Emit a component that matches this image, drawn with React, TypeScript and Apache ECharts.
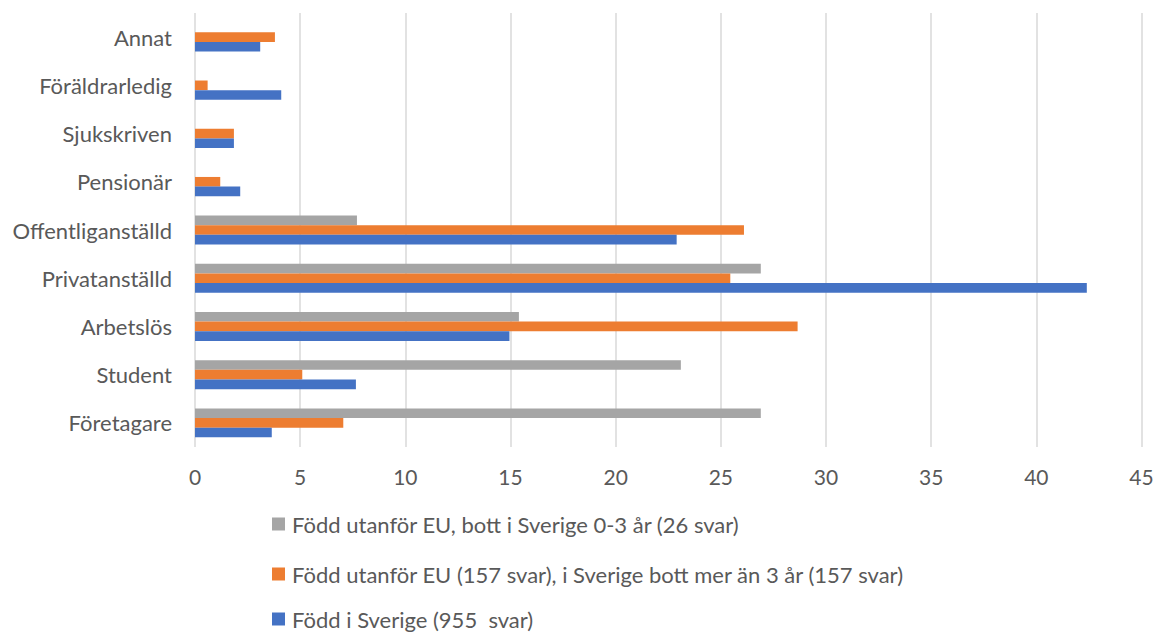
import React, { useEffect, useRef } from "react";
import * as echarts from "echarts";

const categories = [
  "Företagare",
  "Student",
  "Arbetslös",
  "Privatanställd",
  "Offentliganställd",
  "Pensionär",
  "Sjukskriven",
  "Föräldrarledig",
  "Annat",
];

const seriesNames = [
  "Född utanför EU, bott i Sverige 0-3 år (26 svar)",
  "Född utanför EU (157 svar), i Sverige bott mer än 3 år (157 svar)",
  "Född i Sverige (955  svar)",
];

const outsideEU0to3 = [26.9, 23.1, 15.4, 26.9, 7.7, 0, 0, 0, 0];
const outsideEU3plus = [7.05, 5.1, 28.65, 25.45, 26.1, 1.2, 1.85, 0.6, 3.8];
const bornSweden = [3.65, 7.65, 14.95, 42.4, 22.9, 2.15, 1.85, 4.1, 3.1];

const xTicks = { min: 0, max: 45, interval: 5 };

const colors = ["#A5A5A5", "#ED7D31", "#4472C4"];
const FONT = "Lato";
const TEXT = "#595959";
const legendTops = [512, 562, 607];

export default function App() {
  const ref = useRef<HTMLDivElement>(null);
  useEffect(() => {
    if (!ref.current) return;
    const chart = echarts.init(ref.current, undefined, { renderer: "svg" });
    const values = [outsideEU0to3, outsideEU3plus, bornSweden];
    chart.setOption({
      animation: false,
      backgroundColor: "#ffffff",
      grid: { left: 195, right: 15.5, top: 13, bottom: 185, containLabel: false },
      xAxis: {
        type: "value",
        min: xTicks.min,
        max: xTicks.max,
        interval: xTicks.interval,
        axisLine: { show: false },
        axisTick: { show: false },
        splitLine: { show: true, lineStyle: { color: "#D9D9D9", width: 1.5 } },
        axisLabel: { color: TEXT, fontFamily: FONT, fontSize: 21, margin: 19 },
      },
      yAxis: {
        type: "category",
        data: categories,
        axisLine: { show: false },
        axisTick: { show: false },
        axisLabel: { color: TEXT, fontFamily: FONT, fontSize: 22, margin: 23 },
      },
      legend: seriesNames.map((name, i) => ({
        orient: "vertical",
        left: 272,
        top: legendTops[i],
        padding: 0,
        itemWidth: 13,
        itemHeight: 13,
        icon: "rect",
        data: [name],
        textStyle: {
          color: TEXT,
          fontFamily: FONT,
          fontSize: 22,
          lineHeight: 24,
          padding: [0, 0, 0, 2],
        },
      })),
      series: seriesNames.map((name, i) => ({
        name,
        type: "bar",
        data: values[i],
        barGap: "0%",
        barCategoryGap: "40%",
        itemStyle: { color: colors[i] },
      })),
    });
    return () => chart.dispose();
  }, []);
  return (
    <div
      ref={ref}
      style={{ position: "fixed", left: 0, top: 0, width: 1157, height: 632 }}
    />
  );
}
